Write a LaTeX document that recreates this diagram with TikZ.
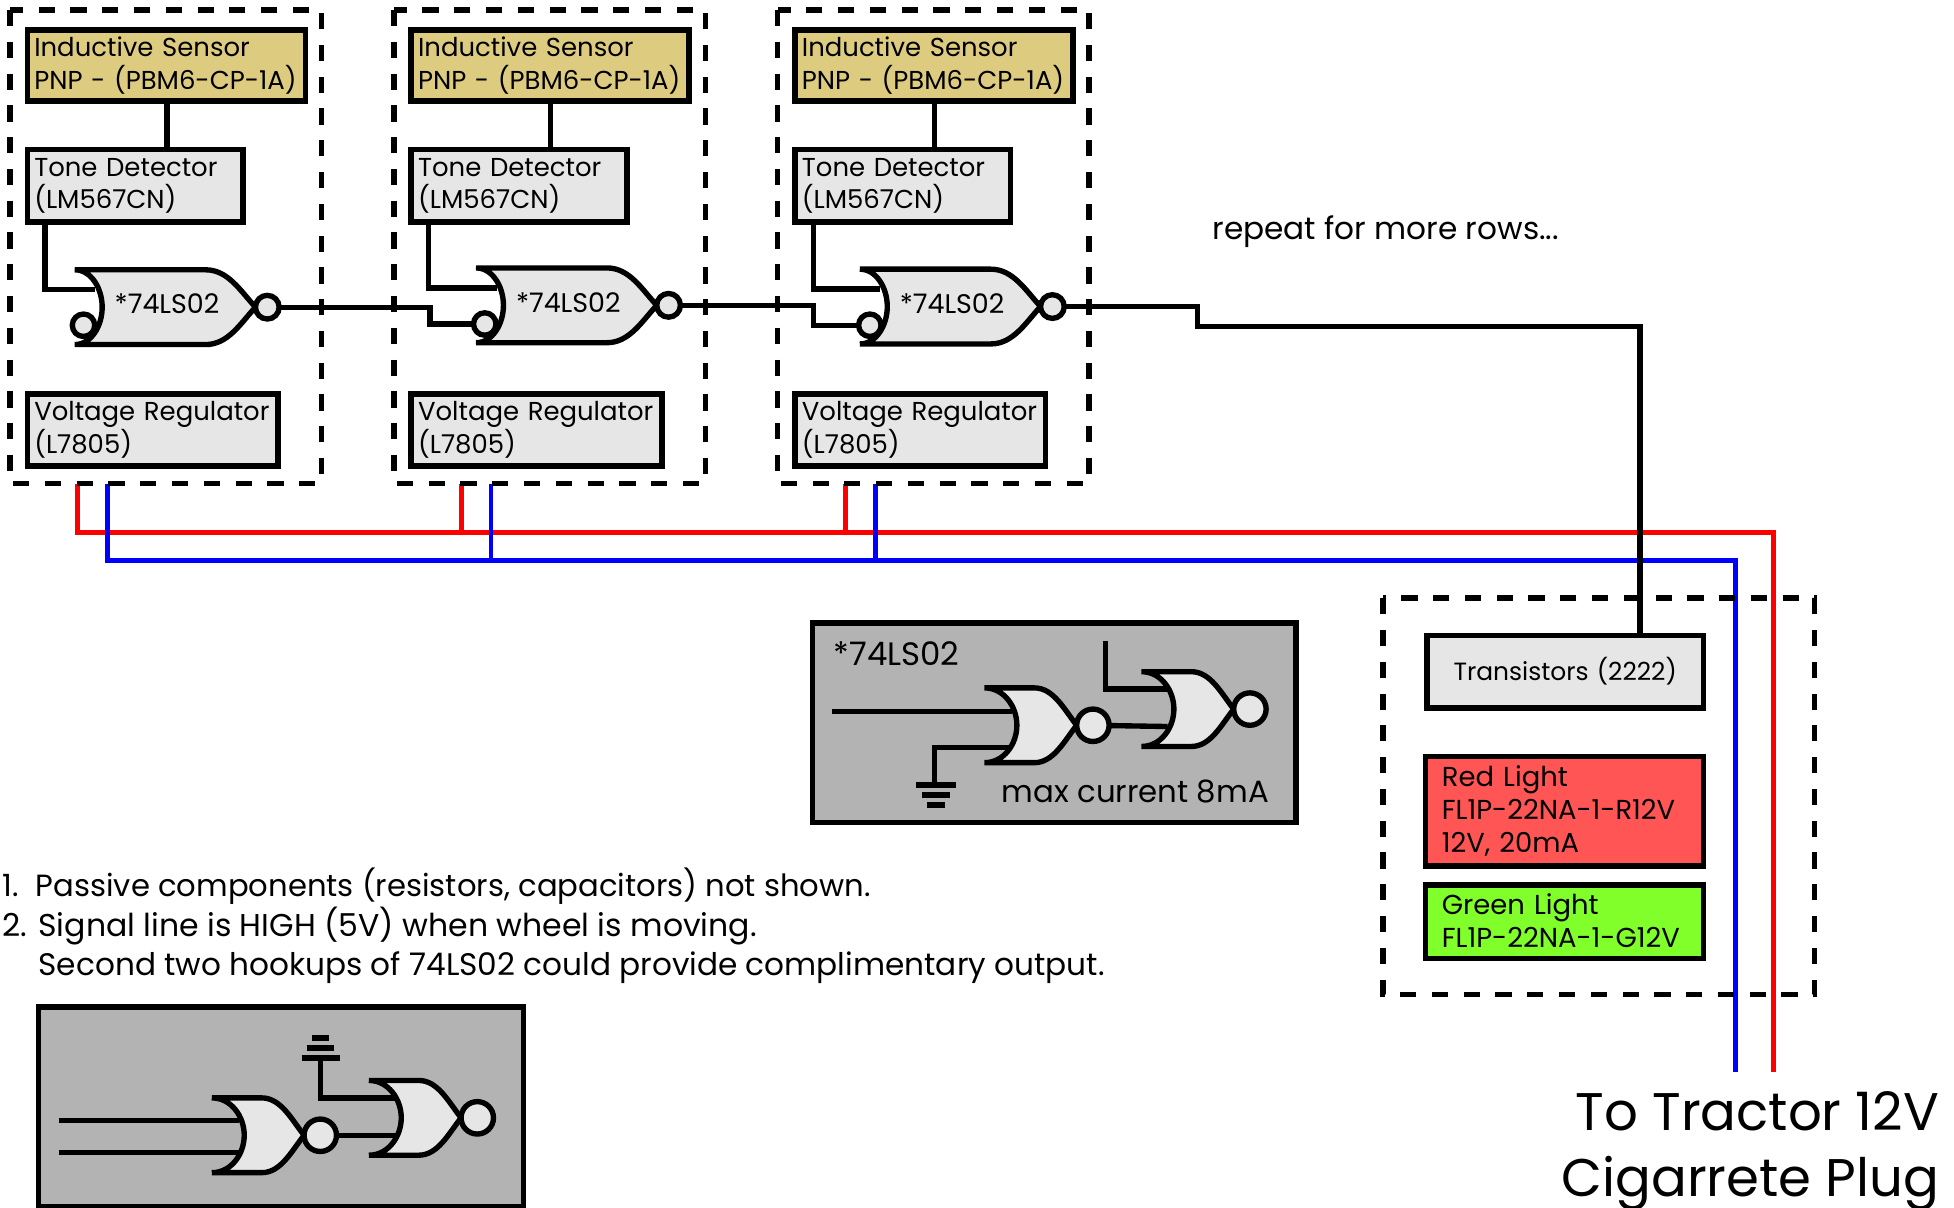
\documentclass[tikz,border=0pt]{standalone}
\usepackage{fontspec}
\setmainfont{Poppins}
\definecolor{sensorc}{HTML}{DDCC80}
\definecolor{lightg}{HTML}{E6E6E6}
\definecolor{midg}{HTML}{B3B3B3}
\definecolor{redc}{HTML}{FF5555}
\definecolor{greenc}{HTML}{80FF2A}
\newcommand{\fs}{\fontsize{20.8}{26}\selectfont}
\newcommand{\fl}{\fontsize{22}{26.5}\selectfont}
\newcommand{\fn}{\fontsize{24.7}{32}\selectfont}
\tikzset{
  every node/.style={outer sep=0pt},
  lab/.style={anchor=base west,inner sep=0pt,align=left},
  wire/.style={line width=4.3pt},
  pos wire/.style={line width=4pt,color=red},
  neg wire/.style={line width=4pt,color=blue},
  dashbox/.style={line width=4.5pt,dash pattern=on 13pt off 12.5pt},
  part/.style={draw,line width=4.5pt,anchor=north west,inner xsep=5.5pt,inner ysep=0pt,align=left,font=\fs},
  inset/.style={draw,line width=4.5pt,fill=midg,anchor=north west},
  bubble/.style={circle,draw,line width=4.3pt,fill=lightg,inner sep=0pt},
  pics/norgate/.style n args={4}{code={
    \draw[line width=4.3pt,fill=lightg]
      (0,-30) -- (#1,-30) .. controls ({#1+(#2-#1)*0.45},-30) and ({#1+(#2-#1)*0.7},-13) .. (#2,0)
      .. controls ({#1+(#2-#1)*0.7},13) and ({#1+(#2-#1)*0.45},30) .. (#1,30) -- (0,30)
      .. controls ({#3*0.6},30) and (#3,15) .. (#3,0)
      .. controls (#3,-15) and ({#3*0.6},-30) .. (0,-30) -- cycle;
    \node[bubble,minimum size={2*#4 pt}] (-out) at ({#2+#4},0) {};
    \coordinate (-in1) at ({#3*0.75},-14);
    \coordinate (-in2) at ({#3*0.75},14);
  }},
}
\newcommand{\block}[2]{%
  \begin{scope}[shift={(#1,0)}]
  \draw[dashbox] (8,8) rectangle (258,388);
  \node[part,fill=sensorc,minimum width=223pt,minimum height=57pt,text width=212pt] (s#2) at (22,24) {Inductive Sensor\\PNP - (PBM6-CP-1A)};
  \node[part,fill=lightg,minimum width=173pt,minimum height=58pt,text width=162pt] (t#2) at (22,120) {Tone Detector\\(LM567CN)};
  \node[part,fill=lightg,minimum width=201pt,minimum height=58pt,text width=190pt] (v#2) at (22,316) {Voltage Regulator\\(L7805)};
  \coordinate (st#2) at (134,120);
  \end{scope}
  \draw[wire] (s#2.south -| st#2) -- (st#2);
}
\begin{document}
\begin{tikzpicture}[x=1pt,y=-1pt]
\clip[use as bounding box] (0,0) rectangle (1568,968.6);
\fill[white] (0,0) rectangle (1568,968.6);

% power rails
\coordinate (rS) at (1423,860);
\coordinate (bS) at (1393,860);
\draw[pos wire] (62,388) -- (62,427.5) -- (1423,427.5) -- (rS);
\draw[pos wire] (370,388) -- (370,427.5);
\draw[pos wire] (678.5,388) -- (678.5,427.5);
\draw[neg wire] (86,388) -- (86,449.5) -- (1393,449.5) -- (bS);
\draw[neg wire] (394,388) -- (394,449.5);
\draw[neg wire] (702.5,388) -- (702.5,449.5);

\block{0}{1}
\block{308}{2}
\block{616}{3}

% gates in the rows
\pic (g1) at (60,246.5) {norgate={105}{145}{22}{9.5}};
\pic (g2) at (382,245) {norgate={105}{145}{22}{9.5}};
\pic (g3) at (690,246) {norgate={105}{145}{22}{9.5}};
\node[bubble,minimum size=18pt] (a1) at (67,261) {};
\node[bubble,minimum size=18pt] (a2) at (389,260) {};
\node[bubble,minimum size=18pt] (a3) at (698,261) {};
\node[font=\fontsize{21.6}{26}\selectfont,inner sep=0pt] (l1) at (134,244) {*74LS02};
\node[font=\fontsize{21.6}{26}\selectfont,inner sep=0pt] (l2) at (456,243) {*74LS02};
\node[font=\fontsize{21.6}{26}\selectfont,inner sep=0pt] (l3) at (764,244) {*74LS02};
\draw[wire] (36,178) |- (g1-in1);
\draw[wire] (344,178) |- (g2-in1);
\draw[wire] (653,178) |- (g3-in1);
\coordinate (m2) at (345,0);
\coordinate (m3) at (653,0);
\draw[wire] (g1-out) -| (m2 |- a2) -- (a2);
\draw[wire] (g2-out) -| (m3 |- a3) -- (a3);

% lights group
\draw[dashbox] (1110,480) rectangle (1456,798);
\node[part,fill=lightg,minimum width=222pt,minimum height=58pt,text width=211pt,align=center,font=\fontsize{20}{26}\selectfont] (tr) at (1145,510) {\raisebox{4pt}{Transistors (2222)}};
\node[part,fill=redc,minimum width=223pt,minimum height=88pt,inner xsep=13pt,text width=197pt,font=\fl] (rl) at (1144,607) {Red Light\\FL1P-22NA-1-R12V\\12V, 20mA};
\node[part,fill=greenc,minimum width=223pt,minimum height=59pt,inner xsep=13pt,text width=197pt,font=\fl] (gl) at (1144,710) {\raisebox{2pt}{Green Light}\\\raisebox{2pt}{FL1P-22NA-1-G12V}};
\coordinate (tt) at (1316,0);
\draw[wire] (g3-out) -- (961,246) -- (961,262) -- (1316,262) -- (tt |- tr.north);

\node[lab,font=\fontsize{25}{32}\selectfont] (rp) at (973,192) {repeat for more rows...};

% inset 1
\node[inset,minimum width=388pt,minimum height=160pt] (i1) at (652,500) {};
\node[lab,font=\fontsize{26}{30}\selectfont] (i1t) at (669,534) {*74LS02};
\node[lab,font=\fn] (i1m) at (804,644) {max current 8mA};
\pic (h1) at (790,582) {norgate={40}{74}{26}{13}};
\pic (h2) at (916,569) {norgate={40}{74}{26}{13}};
\coordinate (h1a) at (668,571);
\coordinate (h2a) at (887,514);
\coordinate (gnd1) at (750,630);
\draw[wire] (h1a) -- (812,571);
\draw[wire] (gnd1) |- (812,600);
\draw[wire] (h2a) |- (937,553);
\draw[wire] (h1-out) -- (937,583);
\draw[wire] (735,630) -- (767,630);
\draw[wire] (740,638) -- (762,638);
\draw[wire] (744,646) -- (758,646);

% notes
\node[lab,font=\fontsize{24.6}{32}\selectfont] (n1) at (2,719.5) {1.\hspace{5pt} Passive components (resistors, capacitors) not shown.};
\node[lab,font=\fontsize{25.3}{32}\selectfont] (n2) at (2,751.5) {2. Signal line is HIGH (5V) when wheel is moving.};
\node[lab,font=\fontsize{25}{32}\selectfont] (n3) at (31,783) {Second two hookups of 74LS02 could provide complimentary output.};

% inset 2
\node[inset,minimum width=389pt,minimum height=160pt] (i2) at (31,808) {};
\pic (j1) at (170,911) {norgate={40}{74}{26}{13}};
\pic (j2) at (296,897) {norgate={40}{74}{26}{13}};
\coordinate (j1a) at (47,899);
\coordinate (j1b) at (47,925);
\coordinate (gnd2) at (257,849);
\draw[wire] (j1a) -- (192,899);
\draw[wire] (j1b) -- (192,925);
\draw[wire] (gnd2) |- (318,881);
\draw[wire] (j1-out) -- (318,911);
\draw[wire] (242,849) -- (273,849);
\draw[wire] (246,841) -- (268,841);
\draw[wire] (250,833) -- (264,833);

% destination
\node[lab,anchor=base east,align=right,font=\fontsize{42.5}{53}\selectfont] (dest) at (1556,960) {To Tractor 12V\\Cigarrete Plug};
\end{tikzpicture}
\end{document}
